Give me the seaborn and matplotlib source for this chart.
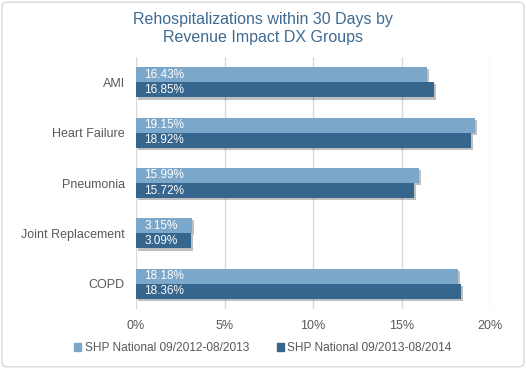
import matplotlib
matplotlib.use("Agg")
import matplotlib.pyplot as plt
import matplotlib.ticker as mtick
import matplotlib.patheffects as pe
from matplotlib.patches import FancyBboxPatch
from matplotlib.transforms import ScaledTranslation
import pandas as pd
import seaborn as sns

# ── data ──────────────────────────────────────────────────────────────────────
groups = ["AMI", "Heart Failure", "Pneumonia", "Joint Replacement", "COPD"]
period_labels = ["SHP National 09/2012-08/2013", "SHP National 09/2013-08/2014"]
rate_2013 = [16.43, 19.15, 15.99, 3.15, 18.18]
rate_2014 = [16.85, 18.92, 15.72, 3.09, 18.36]
x_ticks = [0, 5, 10, 15, 20]

df = pd.DataFrame({
    "group": groups * 2,
    "period": [period_labels[0]] * len(groups) + [period_labels[1]] * len(groups),
    "rate": rate_2013 + rate_2014,
})

LIGHT = "#7BA7CB"
DARK = "#36668E"
TEXT = "#595959"

sns.set_theme(style="white")
plt.rcParams["font.family"] = ["Liberation Sans", "DejaVu Sans"]

fig = plt.figure(figsize=(5.26, 3.69), dpi=100)
ax = fig.add_axes([0.2586, 0.163, 0.673, 0.682])

sns.barplot(data=df, y="group", x="rate", hue="period", order=groups,
            hue_order=period_labels, palette=[LIGHT, DARK], orient="h",
            width=0.6, saturation=1, ax=ax, legend=False, zorder=3)

shadow = [pe.SimplePatchShadow(offset=(1.5, -1.5), shadow_rgbFace="#000000",
                               alpha=0.25), pe.Normal()]
for bar in ax.patches:
    bar.set_path_effects(shadow)
    bar.set_linewidth(0)

# value labels inside the bars, at the left end
offset = ax.transData + ScaledTranslation(6 / 72, 0, fig.dpi_scale_trans)
for bar in ax.patches:
    w = bar.get_width()
    yc = bar.get_y() + bar.get_height() / 2
    ax.text(0, yc, f"{w:.2f}%", transform=offset, ha="left", va="center",
            color="white", fontsize=8.5, zorder=6)

ax.set_xlim(0, 20)
ax.set_xticks(x_ticks)
ax.xaxis.set_major_formatter(mtick.PercentFormatter(decimals=0))
ax.set_ylim(4.5, -0.5)
ax.grid(axis="x", color="#D9D9D9", lw=1, zorder=0)
ax.set_axisbelow(True)
for s in ax.spines.values():
    s.set_visible(False)
ax.set_xlabel("")
ax.set_ylabel("")
ax.tick_params(axis="both", length=0, labelsize=9, labelcolor=TEXT, pad=8)

fig.suptitle("Rehospitalizations within 30 Days by\nRevenue Impact DX Groups",
             x=0.5, y=0.968, fontsize=11.5, color="#3F6A91", linespacing=1.3)

handles = [plt.Rectangle((0, 0), 1, 1, color=c) for c in (LIGHT, DARK)]
fig.legend(handles, period_labels, loc="center", bbox_to_anchor=(0.5, 0.057),
           ncol=2, frameon=False, fontsize=8.6, handlelength=0.6,
           handleheight=0.6, handletextpad=0.3, columnspacing=2.3,
           labelcolor=TEXT)

fig.patches.append(FancyBboxPatch((0.004, 0.006), 0.992, 0.988,
                                  boxstyle="round,pad=0,rounding_size=0.01",
                                  transform=fig.transFigure, fill=False,
                                  edgecolor="#D9D9D9", lw=1))

fig.savefig("out.png", dpi=100)
